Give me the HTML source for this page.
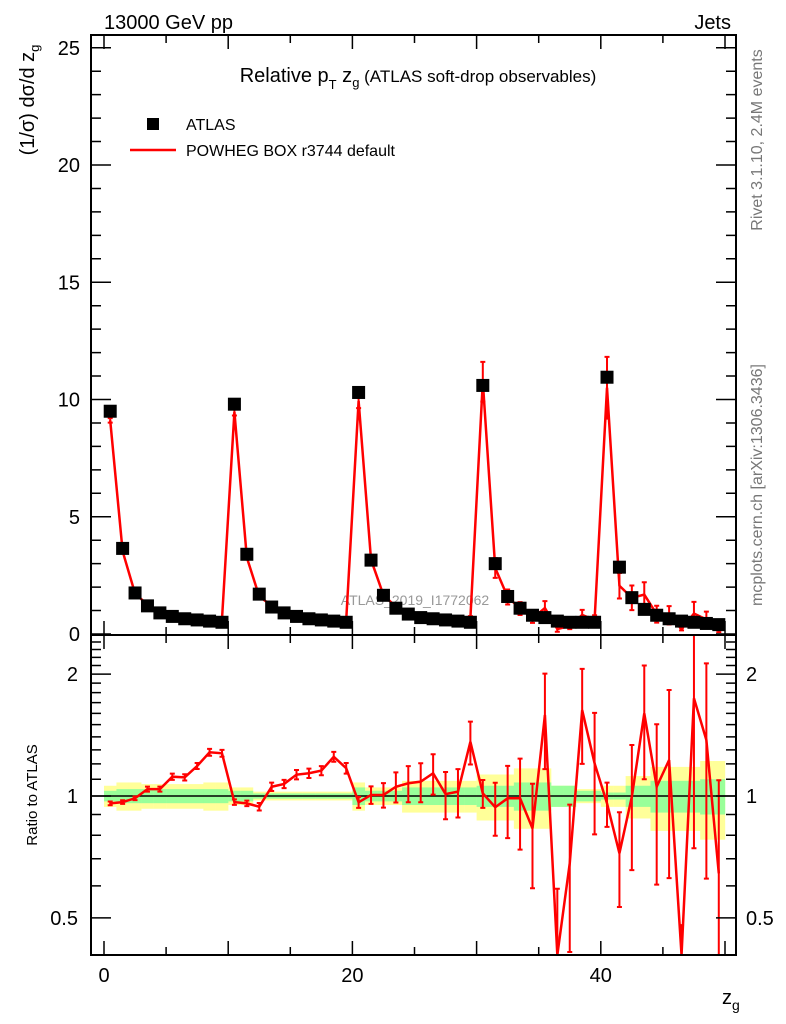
<!DOCTYPE html>
<html><head><meta charset="utf-8"><style>
body{margin:0;background:#fff;}
svg{display:block;font-family:"Liberation Sans",sans-serif;}
</style></head><body>
<svg id="c" width="786" height="1024" viewBox="0 0 786 1024" xmlns="http://www.w3.org/2000/svg">
<text x="104" y="29" font-size="20">13000 GeV pp</text>
<text x="731" y="29" font-size="20" text-anchor="end">Jets</text>
<text x="418" y="82" font-size="20" text-anchor="middle">Relative p<tspan font-size="13" dy="7">T</tspan><tspan dy="-7"> z</tspan><tspan font-size="13" dy="5">g</tspan><tspan dy="-5" font-size="17"> (ATLAS soft-drop observables)</tspan></text>
<rect x="147" y="118" width="12" height="12" fill="#000"/>
<text x="186" y="130" font-size="16">ATLAS</text>
<line x1="130" y1="150" x2="176" y2="150" stroke="#f00" stroke-width="2.5"/>
<text x="186" y="156" font-size="16">POWHEG BOX r3744 default</text>
<text transform="translate(762,140) rotate(-90)" font-size="16" fill="#777" text-anchor="middle">Rivet 3.1.10,  2.4M events</text>
<text transform="translate(762,485) rotate(-90)" font-size="16" fill="#777" text-anchor="middle">mcplots.cern.ch [arXiv:1306.3436]</text>
<text x="415" y="605" font-size="14" fill="#999" text-anchor="middle">ATLAS_2019_I1772062</text>
<text transform="translate(34,100) rotate(-90)" font-size="20" text-anchor="middle">(1/σ) dσ/d z<tspan font-size="13" dy="5">g</tspan></text>
<text transform="translate(37,795) rotate(-90)" font-size="15" text-anchor="middle">Ratio to ATLAS</text>
<text x="722" y="1004" font-size="20">z<tspan font-size="14" dy="6">g</tspan></text>
<g id="bands"></g><g id="marks"></g><g id="axes"></g>
</svg>
<script>
const data=[9.5,3.65,1.75,1.2,0.9,0.75,0.65,0.6,0.55,0.5,
9.8,3.4,1.7,1.15,0.9,0.75,0.65,0.6,0.55,0.5,
10.3,3.15,1.65,1.1,0.85,0.7,0.65,0.6,0.55,0.5,
10.6,3.0,1.6,1.1,0.8,0.7,0.55,0.5,0.5,0.5,
10.95,2.85,1.55,1.05,0.8,0.65,0.55,0.5,0.45,0.4];
const ratio=[0.959,0.966,0.987,1.04,1.04,1.116,1.112,1.186,1.282,1.275,
0.966,0.959,0.941,1.054,1.071,1.129,1.138,1.155,1.25,1.171,
0.965,1.006,1.006,1.054,1.075,1.085,1.138,1.011,1.025,1.361,
1.015,0.938,0.987,0.987,0.832,1.585,0.38,0.682,1.63,1.204,
0.959,0.722,0.996,1.6,1.054,1.227,0.38,1.743,1.375,0.644];
const ratioErr=[0.01,0.01,0.01,0.015,0.015,0.02,0.02,0.02,0.025,0.025,
0.015,0.015,0.02,0.025,0.025,0.03,0.03,0.03,0.035,0.035,
0.03,0.05,0.07,0.09,0.11,0.12,0.13,0.135,0.14,0.165,
0.08,0.14,0.2,0.25,0.24,0.42,0.21,0.27,0.43,0.4,
0.12,0.19,0.34,0.5,0.45,0.6,0.1,1.0,0.75,0.45];
const greenBand=[0.03,0.04,0.04,0.04,0.04,0.04,0.04,0.04,0.04,0.04,
0.03,0.03,0.015,0.015,0.015,0.015,0.015,0.015,0.015,0.015,
0.05,0.03,0.03,0.03,0.05,0.05,0.05,0.05,0.05,0.05,
0.06,0.06,0.06,0.08,0.08,0.08,0.06,0.06,0.03,0.03,
0.02,0.02,0.06,0.06,0.09,0.09,0.09,0.09,0.1,0.1];
const yellowBand=[0.06,0.08,0.08,0.07,0.07,0.07,0.07,0.07,0.08,0.08,
0.05,0.05,0.025,0.025,0.025,0.025,0.025,0.025,0.025,0.025,
0.08,0.05,0.05,0.05,0.09,0.09,0.09,0.09,0.09,0.09,
0.13,0.13,0.13,0.17,0.17,0.17,0.06,0.06,0.04,0.04,
0.06,0.06,0.12,0.12,0.18,0.18,0.18,0.18,0.22,0.22];
const xLabels=[0,20,40];
const yLabels=[0,5,10,15,20,25];
const rLabels=[0.5,1,2];

const NS="http://www.w3.org/2000/svg";
const L=91,R=736,T=35,M=635,B=955;
const X=v=>104+v*12.42;
const Y=v=>634-v*23.45;
const RY=r=>{const y=796-405*Math.log10(r);return Math.max(M,Math.min(B,y));};
function mk(p,t,a){const e=document.createElementNS(NS,t);for(const k in a)e.setAttribute(k,a[k]);p.appendChild(e);return e;}
const bands=document.getElementById('bands'),marks=document.getElementById('marks'),axes=document.getElementById('axes');

for(let i=0;i<data.length;i++){
 const y=mk(bands,'rect',{x:X(i),y:RY(1+yellowBand[i]),width:12.6,height:RY(1-yellowBand[i])-RY(1+yellowBand[i]),fill:'#ffff99'});
 
 
}
for(let i=0;i<data.length;i++){
 const g=mk(bands,'rect',{x:X(i),y:RY(1+greenBand[i]),width:12.6,height:RY(1-greenBand[i])-RY(1+greenBand[i]),fill:'#99ff99'});
 
 
}
const one=mk(bands,'line',{x1:L,x2:R,y1:RY(1),y2:RY(1),stroke:'#000','stroke-width':1.5});



let pts=[],rpts=[];
for(let i=0;i<data.length;i++){
 const xc=X(i+0.5),mc=data[i]*ratio[i],me=data[i]*ratioErr[i];
 pts.push(xc+','+Y(mc));
 rpts.push(xc+','+RY(ratio[i]));
 const e=mk(marks,'path',{d:`M${xc},${Y(mc+me)}V${Y(Math.max(0,mc-me))}M${xc-2.5},${Y(mc+me)}h5M${xc-2.5},${Y(Math.max(0,mc-me))}h5`,stroke:'#f00','stroke-width':2,fill:'none'});
 
 
 const t=RY(ratio[i]+ratioErr[i]),b=RY(Math.max(0.01,ratio[i]-ratioErr[i]));
 const re=mk(marks,'path',{d:`M${xc},${t}V${b}M${xc-2.5},${t}h5M${xc-2.5},${b}h5`,stroke:'#f00','stroke-width':2,fill:'none'});
 
 
}
const ml=mk(marks,'polyline',{points:pts.join(' '),stroke:'#f00','stroke-width':2.5,fill:'none'});


const rl=mk(marks,'polyline',{points:rpts.join(' '),stroke:'#f00','stroke-width':2.5,fill:'none','clip-path':'url(#rc)'});


const cp=mk(document.getElementById('c'),'clipPath',{id:'rc'});mk(cp,'rect',{x:L,y:M,width:R-L,height:B-M});
for(let i=0;i<data.length;i++){
 const s=mk(marks,'rect',{x:X(i+0.5)-6.5,y:Y(data[i])-6.5,width:13,height:13,fill:'#000'});
 
 
}

const f1=mk(axes,'rect',{x:L,y:T,width:R-L,height:M-T,fill:'none',stroke:'#000','stroke-width':2});


const f2=mk(axes,'rect',{x:L,y:M,width:R-L,height:B-M,fill:'none',stroke:'#000','stroke-width':2});


let d='';
for(let v=0;v<=50;v+=5){const x=X(v),len=v%10==0?14:8;d+=`M${x},${M}v${-len}M${x},${T}v${len}M${x},${B}v${-len}M${x},${M}v${len}`;}
for(let v=0;v<=25;v++){const y=Y(v),len=v%5==0?20:10;d+=`M${L},${y}h${len}M${R},${y}h${-len}`;}
for(const r of [0.5,0.6,0.7,0.8,0.9,1,1.1,1.2,1.3,1.4,1.5,1.6,1.7,1.8,1.9,2,2.1,2.2,2.3,2.4]){const y=RY(r),len=(r==0.5||r==1||r==2)?20:10;d+=`M${L},${y}h${len}M${R},${y}h${-len}`;}
const tk=mk(axes,'path',{d:d,stroke:'#000','stroke-width':1.5,fill:'none'});


for(const v of yLabels){const t=mk(axes,'text',{x:80,y:Y(v)+7,'font-size':20,'text-anchor':'end'});t.textContent=v;
 
 }
for(const r of rLabels){const t=mk(axes,'text',{x:78,y:RY(r)+7,'font-size':20,'text-anchor':'end'});t.textContent=r;
 
 
 const t2=mk(axes,'text',{x:746,y:RY(r)+7,'font-size':20});t2.textContent=r;
 
 }
for(const v of xLabels){const t=mk(axes,'text',{x:X(v),y:982,'font-size':20,'text-anchor':'middle'});t.textContent=v;
 
 }
</script>
</body></html>
